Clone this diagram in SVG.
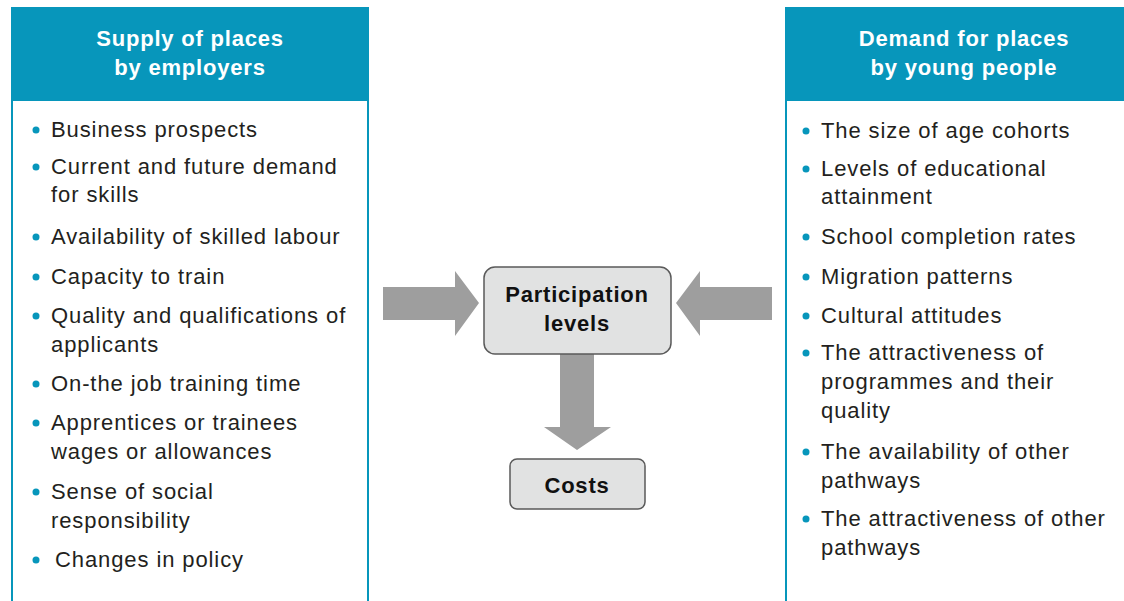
<svg xmlns="http://www.w3.org/2000/svg" width="1124" height="601" viewBox="0 0 1124 601">
<style>
.hdr{fill:#0796bb}
.bd{stroke:#0796bb;stroke-width:2;fill:none}
.ht{font-family:"Liberation Sans",Arial,sans-serif;font-weight:bold;font-size:22px;letter-spacing:0.8px;fill:#fff;text-anchor:middle}
.it{font-family:"Liberation Sans",Arial,sans-serif;font-size:22px;letter-spacing:0.9px;fill:#231f20}
.dot{fill:#0796bb}
.arr{fill:#9e9e9e}
.box{fill:#e1e2e2;stroke:#5a5a5a;stroke-width:1.5}
.bt{font-family:"Liberation Sans",Arial,sans-serif;font-weight:bold;font-size:22px;letter-spacing:0.8px;fill:#111;text-anchor:middle}
</style>
<g id="supply">
<rect class="hdr" x="11" y="7" width="358" height="94"/>
<line class="bd" x1="12" y1="101" x2="12" y2="601"/>
<line class="bd" x1="368" y1="101" x2="368" y2="601"/>
<text class="ht" x="190" y="46">Supply of places</text>
<text class="ht" x="190" y="75">by employers</text>
<g class="dot">
<circle cx="36" cy="130" r="3.5"/><circle cx="36" cy="167" r="3.5"/><circle cx="36" cy="237" r="3.5"/><circle cx="36" cy="277" r="3.5"/><circle cx="36" cy="316" r="3.5"/><circle cx="36" cy="384" r="3.5"/><circle cx="36" cy="423" r="3.5"/><circle cx="36" cy="492" r="3.5"/><circle cx="36" cy="560" r="3.5"/>
</g>
<text class="it" x="51" y="137">Business prospects</text>
<text class="it" x="51" y="174">Current and future demand</text>
<text class="it" x="51" y="202">for skills</text>
<text class="it" x="51" y="244">Availability of skilled labour</text>
<text class="it" x="51" y="284">Capacity to train</text>
<text class="it" x="51" y="323">Quality and qualifications of</text>
<text class="it" x="51" y="352">applicants</text>
<text class="it" x="51" y="391">On-the job training time</text>
<text class="it" x="51" y="430">Apprentices or trainees</text>
<text class="it" x="51" y="459">wages or allowances</text>
<text class="it" x="51" y="499">Sense of social</text>
<text class="it" x="51" y="528">responsibility</text>
<text class="it" x="55" y="567">Changes in policy</text>
</g>
<g id="demand">
<rect class="hdr" x="785" y="7" width="339" height="94"/>
<line class="bd" x1="786" y1="101" x2="786" y2="601"/>
<text class="ht" x="964" y="46">Demand for places</text>
<text class="ht" x="964" y="75">by young people</text>
<g class="dot">
<circle cx="806" cy="131" r="3.5"/><circle cx="806" cy="169" r="3.5"/><circle cx="806" cy="237" r="3.5"/><circle cx="806" cy="277" r="3.5"/><circle cx="806" cy="316" r="3.5"/><circle cx="806" cy="353" r="3.5"/><circle cx="806" cy="452" r="3.5"/><circle cx="806" cy="519" r="3.5"/>
</g>
<text class="it" x="821" y="138">The size of age cohorts</text>
<text class="it" x="821" y="176">Levels of educational</text>
<text class="it" x="821" y="204">attainment</text>
<text class="it" x="821" y="244">School completion rates</text>
<text class="it" x="821" y="284">Migration patterns</text>
<text class="it" x="821" y="323">Cultural attitudes</text>
<text class="it" x="821" y="360">The attractiveness of</text>
<text class="it" x="821" y="389">programmes and their</text>
<text class="it" x="821" y="418">quality</text>
<text class="it" x="821" y="459">The availability of other</text>
<text class="it" x="821" y="488">pathways</text>
<text class="it" x="821" y="526">The attractiveness of other</text>
<text class="it" x="821" y="555">pathways</text>
</g>
<g id="connectors">
<polygon class="arr" points="383,287 455,287 455,271 479,303 455,336 455,320 383,320"/>
<polygon class="arr" points="772,287 700,287 700,271 676,303 700,336 700,320 772,320"/>
<polygon class="arr" points="560,354 594,354 594,427 611,427 577,450 544,427 560,427"/>
</g>
<g id="participation">
<rect class="box" x="484" y="267" width="187" height="87" rx="11"/>
<text class="bt" x="577" y="302">Participation</text>
<text class="bt" x="577" y="331">levels</text>
</g>
<g id="costs">
<rect class="box" x="510" y="459" width="135" height="50" rx="7"/>
<text class="bt" x="577" y="493">Costs</text>
</g>
</svg>
